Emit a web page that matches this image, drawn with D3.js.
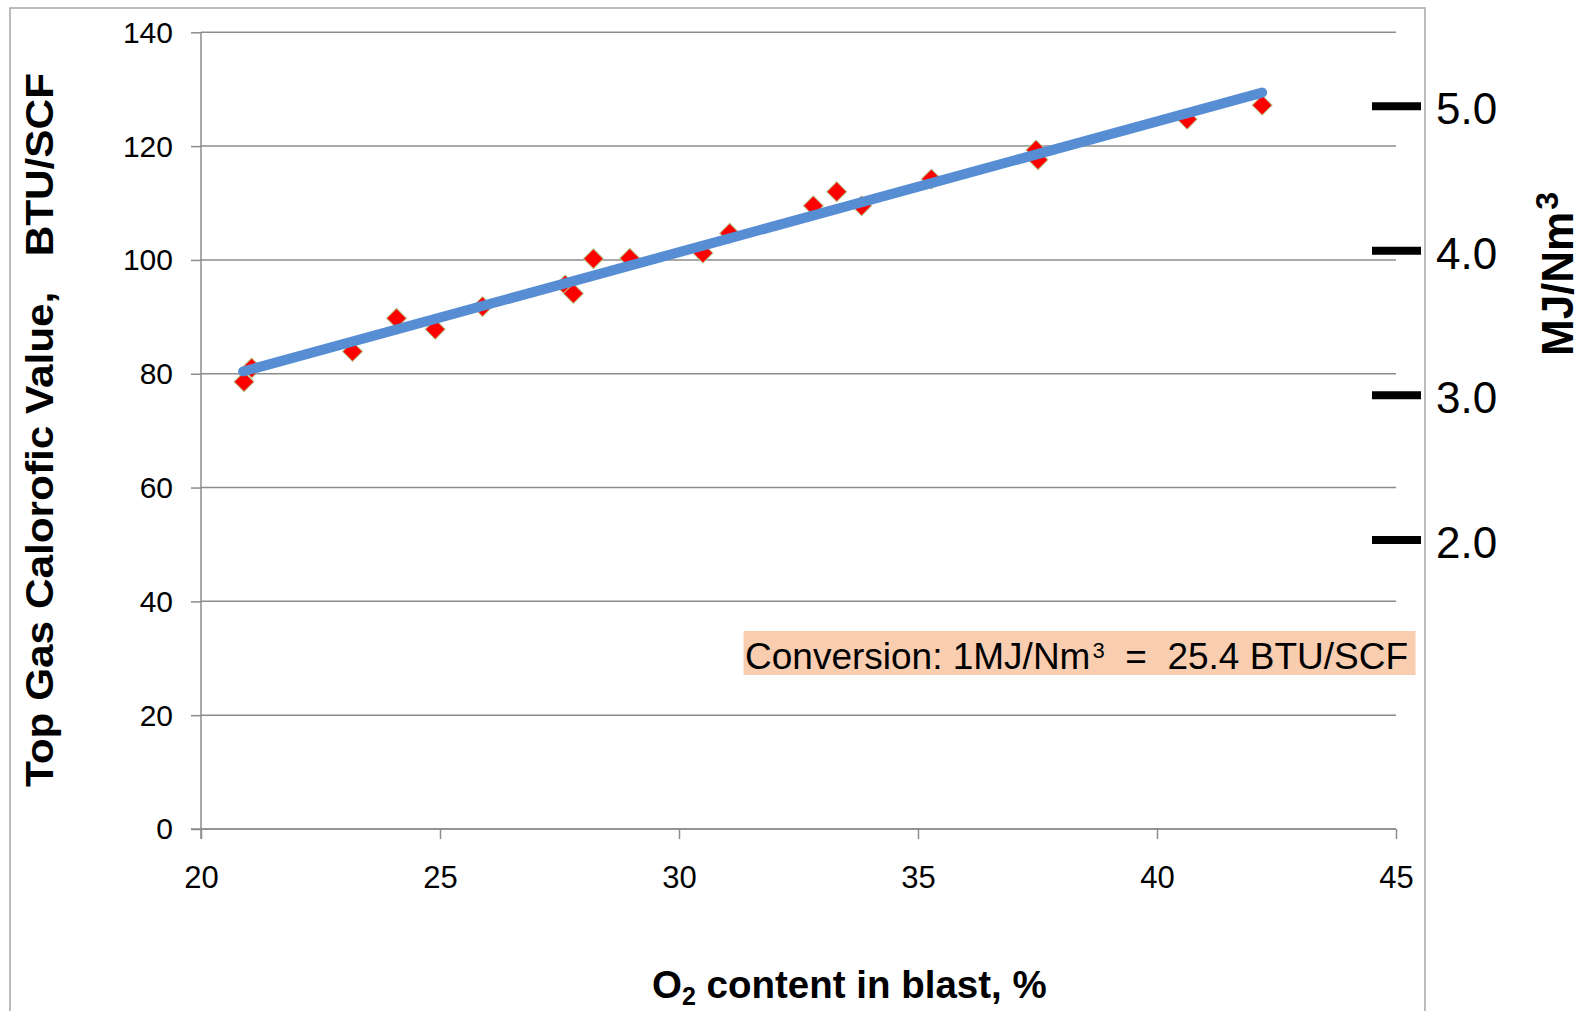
<!DOCTYPE html>
<meta charset="utf-8">
<script src="https://cdn.jsdelivr.net/npm/d3@7/dist/d3.min.js"></script>
<style>
body { margin: 0; background: #fff; }
text { font-family: "Liberation Sans", Arial, sans-serif; fill: #000; }
.grid line { stroke: #8c8c8c; stroke-width: 1.5px; }
</style>
<body>
<script>

// O2 content in blast (%) vs top gas calorific value (BTU/SCF)
var o2 = [20.9, 21.06, 23.17, 24.09, 24.9, 25.89, 27.62, 27.79, 28.21, 28.97,
          30.5, 31.06, 32.81, 33.3, 33.82, 35.28, 37.47, 37.51, 40.63, 42.2];
var cv = [78.6, 81.0, 83.9, 89.75, 87.8, 91.8, 95.6, 94.1, 100.2, 100.3,
          101.2, 104.7, 109.5, 112.0, 109.5, 114.2, 119.3, 117.6, 124.7, 127.2];

// linear trend line end points
var trendX = [20.88, 42.2];
var trendY = [80.4, 129.4];

var yTicks = [0, 20, 40, 60, 80, 100, 120, 140];
var xTicks = [20, 25, 30, 35, 40, 45];
var mjTicks = [2.0, 3.0, 4.0, 5.0];
var btuPerMJ = 25.4;

var width = 1582,
    height = 1011;

var svg = d3.select("body").append("svg")
    .attr("width", width)
    .attr("height", height);

var x = d3.scaleLinear().domain([20, 45]).range([201, 1396]);
var y = d3.scaleLinear().domain([0, 140]).range([829, 32.3]);

// chart area border (bottom runs off the picture)
svg.append("rect")
    .attr("x", 10).attr("y", 8)
    .attr("width", 1415).attr("height", 1020)
    .style("fill", "none")
    .style("stroke", "#a6a6a6")
    .style("stroke-width", 1.5);

// horizontal gridlines
svg.append("g")
    .attr("class", "grid")
    .selectAll("line")
    .data(yTicks)
    .enter().append("line")
    .attr("x1", x(20)).attr("x2", x(45))
    .attr("y1", function(d) { return y(d); })
    .attr("y2", function(d) { return y(d); });

// y axis
var yAxis = svg.append("g")
    .attr("transform", "translate(" + x(20) + ",0)")
    .call(d3.axisLeft(y).tickValues(yTicks).tickSize(10).tickPadding(18));
yAxis.select(".domain").attr("d", "M0," + y(140) + "V" + (y(0) + 10));

// x axis
var xAxis = svg.append("g")
    .attr("transform", "translate(0," + y(0) + ")")
    .call(d3.axisBottom(x).tickValues(xTicks).tickSize(10).tickPadding(27));
xAxis.select(".domain").attr("d", "M" + (x(20) - 10) + ",0H" + x(45));

svg.selectAll(".domain, .tick line")
    .style("stroke", "#8c8c8c")
    .style("stroke-width", 1.5);
yAxis.selectAll(".tick text")
    .style("font-size", "30px")
    .attr("dy", "0.33em");
xAxis.selectAll(".tick text")
    .style("font-size", "31px")
    .attr("dy", "0.71em");

// data points
var points = o2.map(function(d, i) { return {x: d, y: cv[i]}; });
var diamond = d3.symbol().type(d3.symbolSquare).size(200);

svg.append("g")
    .selectAll("path")
    .data(points)
    .enter().append("path")
    .attr("d", diamond)
    .attr("transform", function(d) {
        return "translate(" + x(d.x) + "," + y(d.y) + ") rotate(45)";
    })
    .style("fill", "#ff0000")
    .style("stroke", "#b7c98e")
    .style("stroke-width", 1);

// trend line
var line = d3.line()
    .x(function(d) { return x(d[0]); })
    .y(function(d) { return y(d[1]); });

svg.append("path")
    .datum(trendX.map(function(d, i) { return [d, trendY[i]]; }))
    .attr("d", line)
    .style("fill", "none")
    .style("stroke", "#568dd3")
    .style("stroke-width", 10)
    .style("stroke-linecap", "round");

// conversion note
svg.append("rect")
    .attr("x", 743.5).attr("y", 631)
    .attr("width", 672).attr("height", 44)
    .style("fill", "#f9cdb0");

var note = svg.append("text")
    .attr("x", 745).attr("y", 669)
    .style("font-size", "37px")
    .style("white-space", "pre");
note.append("tspan").text("Conversion: 1MJ/Nm");
note.append("tspan").text("3").style("font-size", "22px").attr("dy", -11).attr("dx", 2);
note.append("tspan").text("  =  25.4 BTU/SCF").style("font-size", "37px").attr("dy", 11);

// secondary scale in MJ/Nm3, drawn as black dashes
var right = svg.append("g");
right.selectAll("line")
    .data(mjTicks)
    .enter().append("line")
    .attr("x1", 1372).attr("x2", 1421)
    .attr("y1", function(d) { return y(d * btuPerMJ); })
    .attr("y2", function(d) { return y(d * btuPerMJ); })
    .style("stroke", "#000")
    .style("stroke-width", 8);

right.selectAll("text")
    .data(mjTicks)
    .enter().append("text")
    .attr("x", 1436)
    .attr("y", function(d) { return y(d * btuPerMJ) + 18; })
    .style("font-size", "44px")
    .text(function(d) { return d.toFixed(1); });

var mj = svg.append("text")
    .attr("transform", "translate(1573,356) rotate(-90)")
    .style("font-size", "44px")
    .style("font-weight", "bold");
mj.append("tspan").text("MJ/Nm");
mj.append("tspan").text("3").style("font-size", "32px").attr("dy", -15).attr("dx", 2);

// axis titles
svg.append("text")
    .attr("transform", "translate(53,787) rotate(-90)")
    .attr("textLength", 714)
    .attr("lengthAdjust", "spacingAndGlyphs")
    .style("font-size", "39px")
    .style("font-weight", "bold")
    .style("white-space", "pre")
    .text("Top Gas Calorofic Value,   BTU/SCF");

var xt = svg.append("text")
    .attr("x", 652).attr("y", 998)
    .style("font-size", "38.5px")
    .style("font-weight", "bold")
    .style("white-space", "pre");
xt.append("tspan").text("O");
xt.append("tspan").text("2").style("font-size", "25px").attr("dy", 7);
xt.append("tspan").text(" content in blast, %").attr("dy", -7);

</script>
</body>
